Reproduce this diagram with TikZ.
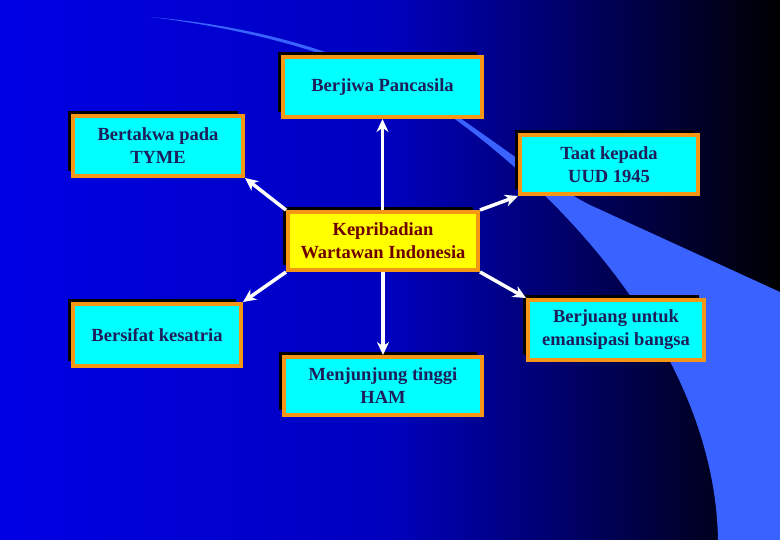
\documentclass[tikz,border=0pt]{standalone}
\usepackage{fontspec}
\setmainfont{Liberation Serif}
\usetikzlibrary{arrows.meta,shadows}
\definecolor{bgblue}{RGB}{0,0,230}
\definecolor{midblue}{RGB}{0,0,190}
\definecolor{swoosh}{RGB}{58,98,255}
\definecolor{boxorange}{RGB}{245,150,20}
\definecolor{boxcyan}{RGB}{0,255,255}
\definecolor{boxyellow}{RGB}{255,255,0}
\definecolor{navytext}{RGB}{30,30,90}
\definecolor{redtext}{RGB}{110,0,0}
\tikzset{
  box/.style={draw=boxorange, line width=4pt, fill=boxcyan, text=navytext,
    font=\bfseries\fontsize{18.5}{23}\selectfont, align=center, inner sep=0pt,
    general shadow={fill=black, shadow xshift=-5pt, shadow yshift=5pt}},
  centerbox/.style={box, fill=boxyellow, text=redtext},
  conn/.style={draw=white, line width=3.5pt, -{Stealth[length=13pt,width=12pt]}}
}
\begin{document}
\begin{tikzpicture}[x=1pt,y=-1pt]
\useasboundingbox (0,0) rectangle (780,540);
\shade[left color=bgblue, right color=black, middle color=midblue] (0,0) rectangle (780,540);
\fill[swoosh] (150,17) .. controls (300,35) and (400,80) .. (445,112)
  .. controls (570,200) and (715,360) .. (718,540) -- (780,540) -- (780,292) -- (590,205)
  .. controls (560,190) and (520,160) .. (470,125)
  .. controls (400,75) and (300,30) .. (150,17) -- cycle;
\node[box, minimum width=199pt, minimum height=60pt] (berjiwa) at (382.5,87) {Berjiwa Pancasila};
\node[box, minimum width=170pt, minimum height=60pt] (bertakwa) at (158,146) {Bertakwa pada\\TYME};
\node[box, minimum width=178pt, minimum height=59pt] (taat) at (609,164.5) {Taat kepada\\UUD 1945};
\node[centerbox, minimum width=190pt, minimum height=58pt] (kep) at (383,241) {Kepribadian\\Wartawan Indonesia};
\node[box, minimum width=168pt, minimum height=62pt] (bersifat) at (157,335) {Bersifat kesatria};
\node[box, minimum width=176pt, minimum height=60pt] (berjuang) at (616,330) {Berjuang untuk\\emansipasi bangsa};
\node[box, minimum width=198pt, minimum height=58pt] (menj) at (383,386) {Menjunjung tinggi\\HAM};
\draw[conn] (kep.north -| berjiwa.south) -- (berjiwa.south);
\draw[conn] (kep.north west) -- (bertakwa.south east);
\draw[conn] (kep.north east) -- (taat.south west);
\draw[conn] (kep.south west) -- (bersifat.north east);
\draw[conn] (kep.south east) -- (berjuang.north west);
\draw[conn] (kep.south) -- (menj.north);
\end{tikzpicture}
\end{document}
